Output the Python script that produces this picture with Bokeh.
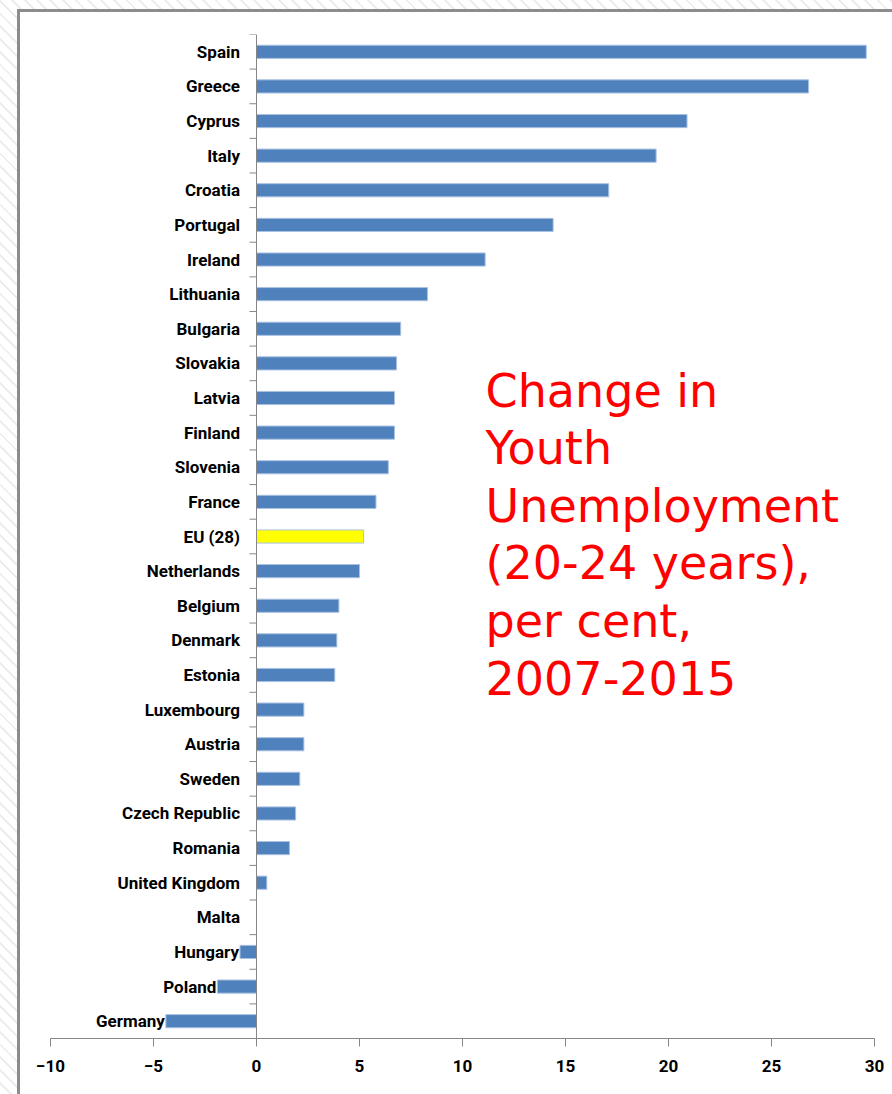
from bokeh.plotting import figure
from bokeh.models import FactorRange, Range1d, Span, Label, ColumnDataSource, FixedTicker, GlobalInlineStyleSheet
from bokeh.transform import dodge
from bokeh.core.properties import value
from bokeh.embed import file_html
from bokeh.resources import INLINE

# ---- data (top to bottom as in the chart) ----
countries = ["Spain", "Greece", "Cyprus", "Italy", "Croatia", "Portugal", "Ireland",
             "Lithuania", "Bulgaria", "Slovakia", "Latvia", "Finland", "Slovenia",
             "France", "EU (28)", "Netherlands", "Belgium", "Denmark", "Estonia",
             "Luxembourg", "Austria", "Sweden", "Czech Republic", "Romania",
             "United Kingdom", "Malta", "Hungary", "Poland", "Germany"]
change = [29.6, 26.8, 20.9, 19.4, 17.1, 14.4, 11.1,
          8.3, 7.0, 6.8, 6.7, 6.7, 6.4,
          5.8, 5.2, 5.0, 4.0, 3.9, 3.8,
          2.3, 2.3, 2.1, 1.9, 1.6,
          0.5, 0.0, -0.8, -1.9, -4.4]
highlight = "EU (28)"
x_ticks = [-10, -5, 0, 5, 10, 15, 20, 25, 30]
title_lines = ["Change in", "Youth", "Unemployment", "(20-24 years),", "per cent,", "2007-2015"]

BAR = "#4f81bd"
HIL = "#ffff00"
GRAY = "#868686"

colors = [HIL if c == highlight else BAR for c in countries]
label_x = [min(-0.8, v - 0.05) for v in change]

src = ColumnDataSource(dict(country=countries, change=change, color=colors, lx=label_x))

page_css = GlobalInlineStyleSheet(css="""
html, body {
  margin: 0;
  overflow: hidden;
  background: repeating-linear-gradient(45deg, #ffffff 0px, #ffffff 7px, #ededed 7px, #ededed 9px);
}
""")

p = figure(width=882, height=1092,
           y_range=FactorRange(factors=list(reversed(countries))),
           x_range=Range1d(-10, 30),
           output_backend="svg", toolbar_location=None,
           min_border_left=30, min_border_right=28, min_border_top=22, min_border_bottom=66)

p.styles = {"margin-left": "17px", "margin-top": "9px",
            "border-left": "3px solid #8c8c8c", "border-top": "3px solid #8c8c8c",
            "background-color": "white"}
p.stylesheets = [page_css]

p.background_fill_color = "white"
p.border_fill_color = "white"
p.outline_line_color = None
p.xgrid.visible = False
p.ygrid.visible = False

p.hbar(y="country", right="change", left=0, height=0.38, source=src,
       fill_color="color", line_color="#a9c1e2", line_width=1)

# category axis line at x=0 (Excel style) with ticks between categories
p.yaxis.visible = False
p.add_layout(Span(location=0, dimension="height", line_color=GRAY, line_width=1))
p.segment(x0=-0.34, x1=0, y0=dodge("country", 0.5, range=p.y_range),
          y1=dodge("country", 0.5, range=p.y_range), source=src,
          line_color=GRAY, line_width=1)

# category labels
p.text(x="lx", y="country", text="country", source=src,
       text_align="right", text_baseline="middle",
       text_font=value("Roboto"), text_font_style="bold", text_font_size="17px",
       text_color="black")

# value axis
p.xaxis.ticker = FixedTicker(ticks=x_ticks)
p.xaxis.axis_line_color = GRAY
p.xaxis.major_tick_line_color = GRAY
p.xaxis.major_tick_in = 0
p.xaxis.major_tick_out = 8
p.xaxis.minor_tick_line_color = None
p.xaxis.major_label_standoff = 13
p.xaxis.major_label_text_font = "Roboto"
p.xaxis.major_label_text_font_style = "bold"
p.xaxis.major_label_text_font_size = "17px"
p.xaxis.major_label_text_color = "black"

# red annotation text
for i, line in enumerate(title_lines):
    p.add_layout(Label(x=11.12, y=18.70 - 1.658 * i, text=line,
                       text_font="DejaVu Sans", text_font_size="46px",
                       text_color="#ff0000", text_baseline="alphabetic", text_align="left"))

open("out.html", "w").write(file_html(p, INLINE))
